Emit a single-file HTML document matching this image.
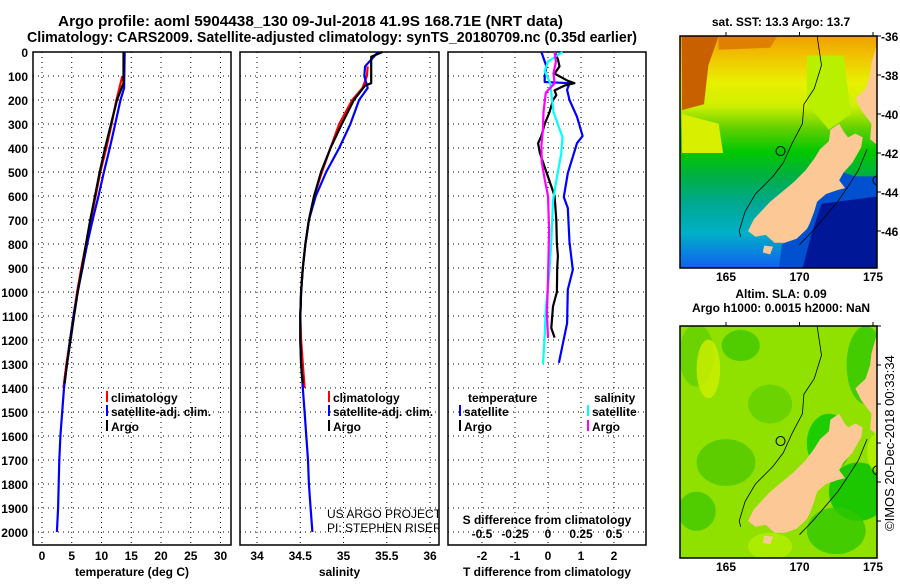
<!DOCTYPE html>
<html><head><meta charset="utf-8"><style>
body{margin:0;background:#fff}
svg text{font-family:"Liberation Sans",Arial,sans-serif;font-weight:bold;fill:#000}
</style></head><body>
<svg id="fig" width="900" height="580" viewBox="0 0 900 580" xmlns="http://www.w3.org/2000/svg">
<rect width="900" height="580" fill="#fff"/>
<text x="58" y="26" font-size="15" textLength="505" lengthAdjust="spacingAndGlyphs">Argo profile: aoml 5904438_130 09-Jul-2018 41.9S 168.71E (NRT data)</text>
<text x="27" y="42" font-size="15" textLength="610" lengthAdjust="spacingAndGlyphs">Climatology: CARS2009. Satellite-adjusted climatology: synTS_20180709.nc (0.35d earlier)</text>
<defs><clipPath id="salclip"><rect x="240" y="52" width="199" height="493"/></clipPath></defs>
<g id="plots"></g>
<g id="maps"></g>
</svg>
<script>
// ---- data ----
const depthTicks=[0,100,200,300,400,500,600,700,800,900,1000,1100,1200,1300,1400,1500,1600,1700,1800,1900,2000];
const tempTicks=[0,5,10,15,20,25,30];
const salTicks=[34,34.5,35,35.5,36];
const salTickLabels=["34","34.5","35","35.5","36"];
const tdiffTicks=[-2,-1,0,1,2];
const sdiffTicks=[-0.5,-0.25,0,0.25,0.5];
const sdiffLabels=["-0.5","-0.25","0","0.25","0.5"];

const tempArgoD=[0,130,200,300,400,500,600,700,800,900,1000,1100,1200,1300,1380];
const tempArgoV=[13.7,13.7,12.6,11.6,10.6,9.7,8.9,8.1,7.4,6.7,6.0,5.4,4.8,4.2,3.8];
const tempClimD=[100,150,200,300,400,500,600,700,800,900,1000,1100,1200,1300,1400];
const tempClimV=[13.5,13.0,12.5,11.7,10.8,9.8,9.0,8.2,7.4,6.6,5.9,5.3,4.7,4.1,3.6];
const tempSatD=[0,150,200,300,400,500,600,700,800,900,1000,1100,1200,1300,1400,1500,1600,1700,1800,1900,2000];
const tempSatV=[13.9,13.8,13.2,12.3,11.4,10.4,9.5,8.5,7.6,6.8,6.0,5.3,4.7,4.2,3.7,3.4,3.1,2.9,2.8,2.7,2.5];

const salArgoD=[0,20,130,140,200,300,400,500,600,700,800,900,1000,1100,1200,1300,1380];
const salArgoV=[35.45,35.32,35.32,35.25,35.12,34.98,34.85,34.74,34.66,34.6,34.56,34.53,34.51,34.5,34.5,34.51,34.53];
const salClimD=[60,100,150,200,300,400,500,600,700,800,900,1000,1100,1200,1300,1400];
const salClimV=[35.28,35.27,35.22,35.1,34.95,34.85,34.75,34.66,34.6,34.56,34.53,34.51,34.5,34.51,34.53,34.55];
const salSatD=[0,60,100,150,200,300,400,500,600,700,800,900,1000,1100,1200,1300,1400,1500,1600,1700,1800,1900,2000];
const salSatV=[35.4,35.25,35.24,35.28,35.18,35.08,34.95,34.8,34.68,34.6,34.56,34.53,34.51,34.5,34.5,34.51,34.53,34.55,34.57,34.59,34.6,34.62,34.64];

const tdArgoD=[0,30,60,90,120,130,140,160,180,200,250,300,350,380,420,500,600,700,800,850,900,1000,1060,1150,1190];
const tdArgoV=[0.2,0.3,0.35,0.2,0.6,0.8,0.5,0.2,0.25,0.15,0.05,-0.1,-0.2,-0.3,-0.25,-0.05,0.2,0.25,0.27,0.3,0.28,0.27,0.15,0.1,0.2];
const tdSatD=[0,60,100,125,130,158,200,270,350,380,505,604,650,792,908,990,1130,1295];
const tdSatV=[-0.2,-0.05,-0.1,-0.1,0.65,0.58,0.65,0.88,1.05,0.88,0.6,0.48,0.6,0.65,0.75,0.6,0.58,0.33];
const sdSatD=[0,40,80,130,250,355,425,520,620,792,930,1070,1180,1300];
const sdSatV=[0.11,0.0,-0.025,0.017,0.042,0.11,0.1,0.068,0.038,0.025,0.008,-0.017,-0.025,-0.038];
const sdArgoD=[0,40,90,130,170,250,320,390,460,530,600,740,950,1090,1190];
const sdArgoV=[0.05,0.06,0.042,0.05,-0.017,-0.034,-0.038,-0.05,-0.047,-0.025,0,0.008,0,-0.008,0];

// ---- helpers ----
const NS="http://www.w3.org/2000/svg";
function mk(tag,attrs,parent){const e=document.createElementNS(NS,tag);for(const k in attrs)e.setAttribute(k,attrs[k]);parent.appendChild(e);return e;}
const plots=document.getElementById('plots');
const yD=d=>52+d*0.24;
const panels=[
 {x0:33,x1:231,sx:t=>42+t*5.95,ticks:tempTicks,labels:tempTicks.map(String),xlabel:"temperature (deg C)",name:"temperature"},
 {x0:240,x1:439,sx:s=>257+(s-34)*86.5,ticks:salTicks,labels:salTickLabels,xlabel:"salinity",name:"salinity"},
 {x0:448,x1:646,sx:t=>548+t*33,ticks:tdiffTicks,labels:tdiffTicks.map(String),xlabel:"T difference from climatology",name:"difference"}
];
const pTop=52,pBot=545;
panels.forEach((p,pi)=>{
  const g=mk('g',{},plots);
  
  
  depthTicks.forEach(d=>{const l=mk('line',{x1:p.x0,x2:p.x1,y1:yD(d),y2:yD(d),stroke:'#000','stroke-width':1,'stroke-dasharray':'1,4'},g);
    });
  p.ticks.forEach((t,i)=>{const x=p.sx(t);
    const l=mk('line',{x1:x,x2:x,y1:pTop,y2:pBot,stroke:'#000','stroke-width':1,'stroke-dasharray':'1,4'},g);
    
    const tx=mk('text',{x:x,y:560,'font-size':12,'text-anchor':'middle'},g);tx.textContent=p.labels[i];
    });
  const fr=mk('rect',{x:p.x0,y:pTop,width:p.x1-p.x0,height:pBot-pTop,fill:'none',stroke:'#000','stroke-width':1.5},g);
  
  const xl=mk('text',{x:(p.x0+p.x1)/2,y:576,'font-size':12,'text-anchor':'middle'},g);xl.textContent=p.xlabel;
  
});
depthTicks.forEach(d=>{const t=mk('text',{x:28,y:yD(d)+5,'font-size':12,'text-anchor':'end'},plots);t.textContent=String(d);
  });
const sdx=s=>548+s*132;
sdiffTicks.forEach((s,i)=>{const t=mk('text',{x:sdx(s),y:538,'font-size':12,'text-anchor':'middle'},plots);t.textContent=sdiffLabels[i];
  });
{const t=mk('text',{x:547,y:524,'font-size':12,'text-anchor':'middle'},plots);t.textContent='S difference from climatology';
 }

function line(D,V,sx,color,name){
  const pts=D.map((d,i)=>sx(V[i]).toFixed(1)+','+yD(d).toFixed(1)).join(' ');
  const l=mk('polyline',{points:pts,fill:'none',stroke:color,'stroke-width':2.2,'stroke-linejoin':'round'},plots);
  
}
const P=panels;
line(tempClimD,tempClimV,P[0].sx,'#f00','temp-climatology-line');
line(tempSatD,tempSatV,P[0].sx,'#00f','temp-satellite-line');
line(tempArgoD,tempArgoV,P[0].sx,'#000','temp-argo-line');
line(salClimD,salClimV,P[1].sx,'#f00','sal-climatology-line');
line(salSatD,salSatV,P[1].sx,'#00f','sal-satellite-line');
line(salArgoD,salArgoV,P[1].sx,'#000','sal-argo-line');
line(tdSatD,tdSatV,P[2].sx,'#00f','tdiff-satellite-line');
line(tdArgoD,tdArgoV,P[2].sx,'#000','tdiff-argo-line');
line(sdSatD,sdSatV,sdx,'#0ff','sdiff-satellite-line');
line(sdArgoD,sdArgoV,sdx,'#f0f','sdiff-argo-line');

function legend(x,y,color,label,name){
  const g=mk('g',{},plots);
  mk('line',{x1:x,x2:x,y1:y-11,y2:y,stroke:color,'stroke-width':2},g);
  const t=mk('text',{x:x+4,y:y,'font-size':12},g);t.textContent=label;
}
legend(107,402,'#f00','climatology','legend-temp-climatology');
legend(107,416,'#00f','satellite-adj. clim.','legend-temp-satellite');
legend(107,431,'#000','Argo','legend-temp-argo');
legend(329,402,'#f00','climatology','legend-sal-climatology');
legend(329,416,'#00f','satellite-adj. clim.','legend-sal-satellite');
legend(329,431,'#000','Argo','legend-sal-argo');
{const t=mk('text',{x:468,y:402,'font-size':12},plots);t.textContent='temperature';}
{const t=mk('text',{x:594,y:402,'font-size':12},plots);t.textContent='salinity';}
legend(460,416,'#00f','satellite','legend-tdiff-satellite');
legend(460,431,'#000','Argo','legend-tdiff-argo');
legend(588,416,'#0ff','satellite','legend-sdiff-satellite');
legend(588,431,'#f0f','Argo','legend-sdiff-argo');
{const t=mk('text',{x:327,y:518,'font-size':12,style:'font-weight:normal','clip-path':'url(#salclip)'},plots);t.textContent='US ARGO PROJECT';}
{const t=mk('text',{x:327,y:532,'font-size':12,style:'font-weight:normal','clip-path':'url(#salclip)'},plots);t.textContent='PI: STEPHEN RISER';}

// ---- maps ----
const maps=document.getElementById('maps');
const mX=lon=>726+(lon-165)*14.7;
const latTicks=[-36,-38,-40,-42,-44,-46];
const lonTicks=[165,170,175];
const island=[[172.7,-40.5],[173.0,-40.9],[173.3,-41.2],[173.8,-41.0],[174.3,-41.2],[174.2,-41.7],[173.9,-42.1],[173.6,-42.5],[173.0,-43.0],[172.7,-43.4],[173.1,-43.8],[172.6,-43.9],[171.8,-44.1],[171.2,-44.5],[171.0,-45.0],[170.7,-45.6],[170.5,-45.9],[169.8,-46.4],[169.0,-46.6],[168.3,-46.6],[167.7,-46.2],[167.0,-46.3],[166.5,-46.0],[166.9,-45.4],[167.5,-44.9],[168.0,-44.5],[168.8,-44.0],[169.6,-43.5],[170.4,-42.9],[171.0,-42.3],[171.4,-41.8],[172.0,-41.4],[172.1,-40.8]];
const stewart=[[167.6,-46.75],[168.2,-46.8],[168.0,-47.2],[167.5,-47.1]];
const northIsland=[[175.8,-36.0],[175.2,-36.6],[174.9,-37.4],[174.8,-38.0],[174.5,-38.7],[173.8,-39.2],[174.2,-39.8],[174.9,-40.5],[174.8,-41.3],[175.3,-41.6],[175.8,-41.6]];
const contour=[[171.2,-36.0],[171.5,-37.5],[171.0,-38.7],[170.3,-39.5],[170.2,-40.5],[169.5,-41.5],[168.9,-42.5],[168.2,-43.2],[167.0,-44.1],[166.3,-45.0],[165.9,-46.0],[166.0,-46.3]];
const contourE=[[174.6,-41.8],[174.0,-42.9],[173.4,-43.6],[172.6,-44.5],[171.7,-45.3],[170.9,-46.0],[170.0,-46.7]];
const FR=877;
function drawMap(y0,title1,title2,kind,showLat){
  const mY=lat=>y0+(-36-lat)*19.5;
  const g=mk('g',{},maps);
  
  
  const cid='clip'+kind;
  const cp=mk('clipPath',{id:cid},g);mk('rect',{x:680,y:y0,width:FR-680,height:232},cp);
  const c=mk('g',{'clip-path':'url(#'+cid+')'},g);
  const poly=(pts,fill)=>mk('polygon',{points:pts.map(p=>mX(p[0]).toFixed(1)+','+mY(p[1]).toFixed(1)).join(' '),fill:fill},c);
  if(kind==='sst'){
    const grad=mk('linearGradient',{id:'sstg',x1:0,y1:0,x2:0,y2:1},g);
    [[0,'#f0a000'],[0.1,'#f0c800'],[0.2,'#e8f000'],[0.3,'#d0f000'],[0.4,'#60d000'],[0.5,'#00c800'],[0.6,'#00b040'],[0.72,'#00a890'],[0.85,'#00b0c8'],[1,'#1060f0']].forEach(s=>mk('stop',{offset:s[0],'stop-color':s[1]},grad));
    mk('rect',{x:680,y:y0,width:200,height:232,fill:'url(#sstg)'},c);
    poly([[162,-36],[164.5,-36],[163.8,-37.5],[163.5,-39.5],[162,-39.8]],'#c86000');
    poly([[164.5,-36],[168.5,-36],[168,-36.6],[164.5,-36.7]],'#e08000');
    poly([[162,-40],[164.5,-40.5],[164.8,-42],[162,-42]],'#d8f000');
    poly([[170.5,-37],[173,-37],[173.5,-40],[172,-40.8],[170.5,-39.5]],'#b8f000');
    poly([[169.8,-43.6],[171.2,-42.6],[173,-43],[173.8,-43.2],[175.6,-43.2],[175.6,-48.5],[168.5,-48.5],[168.8,-46.7],[170.6,-45.8]],'#0050d0');
    poly([[171.5,-44.6],[175.6,-44.2],[175.6,-48.5],[170,-48.5],[170.8,-46.2]],'#001898');
  } else {
    mk('rect',{x:680,y:y0,width:200,height:232,fill:'#90e000'},c);
    [[163,-37.5,1.2,1.6,'#60d000'],[163.8,-38.2,0.8,1.5,'#d0f000'],[166,-37,1.3,0.8,'#40c800'],[168,-40,1.5,1.0,'#60d000'],[165,-43,2,1.2,'#50c800'],[163,-45.5,1.3,1,'#40c800'],[172,-42,1.5,1.5,'#00c800'],[174,-44.5,2,1.5,'#00c000'],[172.5,-46.5,2,1.2,'#30c800'],[168,-47.3,1.5,0.7,'#b0f000'],[174.5,-38,1.3,2,'#30c800'],[175.3,-42.5,0.7,1,'#b8f000']].forEach(e=>{
      mk('ellipse',{cx:mX(e[0]),cy:mY(e[1]),rx:e[2]*14.7,ry:e[3]*19.5,fill:e[4],opacity:0.8},c);});
  }
  poly(island,'#fcc896');poly(stewart,'#fcc896');poly(northIsland,'#fcc896');
  [contour,contourE].forEach(cn=>mk('polyline',{points:cn.map(p=>mX(p[0]).toFixed(1)+','+mY(p[1]).toFixed(1)).join(' '),fill:'none',stroke:'#000','stroke-width':0.8},c));
  const m1=mk('circle',{cx:mX(168.71),cy:mY(-41.9),r:4.5,fill:'none',stroke:'#000','stroke-width':1},c);
  
  mk('circle',{cx:mX(175.3),cy:mY(-43.4),r:4.5,fill:'none',stroke:'#000','stroke-width':1},c);
  mk('rect',{x:680,y:y0,width:FR-680,height:232,fill:'none',stroke:'#000','stroke-width':1.5},g);
  latTicks.forEach(l=>{mk('line',{x1:FR,x2:FR+4,y1:mY(l),y2:mY(l),stroke:'#000'},g);
    if(showLat){const t=mk('text',{x:FR+4,y:mY(l)+5,'font-size':12},g);t.textContent=String(l);
    }});
  lonTicks.forEach(l=>{mk('line',{x1:mX(l),x2:mX(l),y1:y0-4,y2:y0,stroke:'#000'},g);
    const t=mk('text',{x:mX(l),y:y0+245,'font-size':12,'text-anchor':'middle'},g);t.textContent=String(l);
    });
  if(title2){
    const t1=mk('text',{x:781,y:y0-28,'font-size':12,'text-anchor':'middle'},g);t1.textContent=title1;
    
    const t2=mk('text',{x:781,y:y0-14,'font-size':12,'text-anchor':'middle'},g);t2.textContent=title2;
    
  } else {
    const t1=mk('text',{x:781,y:y0-10,'font-size':12,'text-anchor':'middle'},g);t1.textContent=title1;
    
  }
}
drawMap(36,'sat. SST: 13.3 Argo: 13.7',null,'sst',true);
drawMap(326,'Altim. SLA: 0.09','Argo h1000: 0.0015 h2000: NaN','sla',false);
{const t=mk('text',{x:0,y:0,'font-size':13,style:'font-weight:normal',transform:'translate(894,531) rotate(-90)'},maps);
 t.textContent='©IMOS 20-Dec-2018 00:33:34';}
</script>
</body></html>
